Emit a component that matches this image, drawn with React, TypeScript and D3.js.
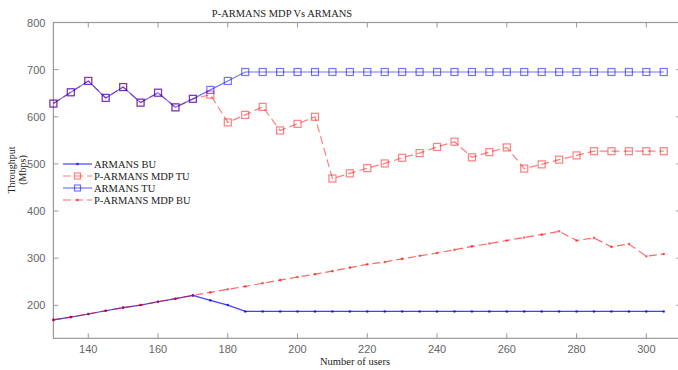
import React, { useRef, useEffect } from 'react';
import * as d3 from 'd3';

const users = d3.range(130, 306, 5);

const armansBU = [169, 175, 181.5, 188.5, 195, 200.5, 207.5, 214, 221, 210.5, 200.5, 187,
  187, 187, 187, 187, 187, 187, 187, 187, 187, 187, 187, 187, 187, 187, 187, 187, 187, 187, 187, 187, 187, 187, 187, 187];
const parmansTU = [628, 652, 676, 640, 663, 630, 651, 620, 638, 647, 588, 604, 621, 571, 585, 600,
  469, 480, 491, 501, 513, 523, 536, 547, 514, 525, 535, 490, 499, 509, 518, 527, 527, 527, 527, 527];
const armansTU = [628, 652, 676, 640, 663, 630, 651, 620, 638, 657, 676, 695,
  695, 695, 695, 695, 695, 695, 695, 695, 695, 695, 695, 695, 695, 695, 695, 695, 695, 695, 695, 695, 695, 695, 695, 695];
const parmansBU = [169, 175, 181.5, 188.5, 195, 200.5, 207.5, 214, 221, 227.5, 234, 240, 247, 253.5, 260, 266,
  272.5, 280, 287, 292, 298.5, 305, 311, 318, 325, 331, 337.5, 344, 350, 357, 337.5, 343, 324, 330, 304, 309];

const xTicks = [140, 160, 180, 200, 220, 240, 260, 280, 300];
const yTicks = [200, 300, 400, 500, 600, 700, 800];

const series = [
  { name: 'ARMANS BU', values: armansBU, color: 'rgba(0,0,255,0.75)', dash: null, marker: 'dot' },
  { name: 'P-ARMANS MDP TU', values: parmansTU, color: 'rgba(255,0,0,0.5)', dash: '8,4', marker: 'square' },
  { name: 'ARMANS TU', values: armansTU, color: 'rgba(0,0,255,0.55)', dash: null, marker: 'square' },
  { name: 'P-ARMANS MDP BU', values: parmansBU, color: 'rgba(255,0,0,0.6)', dash: '8,4', marker: 'dot' },
];

const App = () => {
  const svgRef = useRef(null);

  useEffect(() => {
    const svg = d3.select(svgRef.current);
    svg.selectAll('*').remove();
    const left = 53.4, top = 22.5, right = 681.2, bottom = 338.3;

    const x = d3.scaleLinear().domain([130, 310]).range([left, right]);
    const y = d3.scaleLinear().domain([130, 800]).range([bottom, top]);

    const axisColor = '#999';
    const tickFont = '"Liberation Sans", Arial, sans-serif';
    const serif = '"Liberation Serif", "Times New Roman", serif';

    // box
    svg.append('rect')
      .attr('x', left).attr('y', top)
      .attr('width', right - left).attr('height', bottom - top)
      .attr('fill', 'none').attr('stroke', axisColor).attr('stroke-width', 1.2);

    // ticks on all four sides
    const g = svg.append('g').attr('stroke', axisColor).attr('stroke-width', 1);
    xTicks.forEach(t => {
      g.append('line').attr('x1', x(t)).attr('x2', x(t)).attr('y1', bottom).attr('y2', bottom - 5);
      g.append('line').attr('x1', x(t)).attr('x2', x(t)).attr('y1', top).attr('y2', top + 5);
    });
    yTicks.forEach(t => {
      g.append('line').attr('x1', left).attr('x2', left + 5).attr('y1', y(t)).attr('y2', y(t));
      g.append('line').attr('x1', right).attr('x2', right - 5).attr('y1', y(t)).attr('y2', y(t));
    });

    svg.append('g').selectAll('text').data(xTicks).enter().append('text')
      .attr('x', d => x(d)).attr('y', bottom + 15)
      .attr('text-anchor', 'middle')
      .attr('font-family', tickFont).attr('font-size', 11).attr('fill', '#666')
      .text(d => d);

    svg.append('g').selectAll('text').data(yTicks).enter().append('text')
      .attr('x', left - 8).attr('y', d => y(d) + 4)
      .attr('text-anchor', 'end')
      .attr('font-family', tickFont).attr('font-size', 11).attr('fill', '#666')
      .text(d => d);

    // title and labels
    svg.append('text').attr('x', 282).attr('y', 17).attr('text-anchor', 'middle')
      .attr('font-family', serif).attr('font-size', 10.5).attr('fill', '#222')
      .text('P-ARMANS MDP Vs ARMANS');
    svg.append('text').attr('x', 355).attr('y', 365).attr('text-anchor', 'middle')
      .attr('font-family', serif).attr('font-size', 10.5).attr('fill', '#222')
      .text('Number of users');
    const yl = svg.append('text').attr('transform', 'translate(15,170) rotate(-90)')
      .attr('text-anchor', 'middle')
      .attr('font-family', serif).attr('font-size', 10).attr('fill', '#222');
    yl.append('tspan').attr('x', 0).attr('dy', 0).text('Throughput');
    yl.append('tspan').attr('x', 0).attr('dy', 11).text('(Mbps)');

    const line = d3.line().x(d => x(d[0])).y(d => y(d[1]));

    series.forEach(s => {
      const pts = users.map((u, k) => [u, s.values[k]]);
      svg.append('path').datum(pts)
        .attr('d', line).attr('fill', 'none')
        .attr('stroke', s.color).attr('stroke-width', 1.2)
        .attr('stroke-dasharray', s.dash);
      if (s.marker === 'square') {
        svg.append('g').selectAll('rect').data(pts).enter().append('rect')
          .attr('x', d => x(d[0]) - 3.5).attr('y', d => y(d[1]) - 3.5)
          .attr('width', 7).attr('height', 7)
          .attr('fill', 'none').attr('stroke', s.color).attr('stroke-width', 1.2);
      } else {
        svg.append('g').selectAll('circle').data(pts).enter().append('circle')
          .attr('cx', d => x(d[0])).attr('cy', d => y(d[1])).attr('r', 1.3)
          .attr('fill', s.color);
      }
    });

    // legend
    const legendY = [164, 176, 188, 200];
    series.forEach((s, i) => {
      const ly = legendY[i];
      const lg = svg.append('g');
      lg.append('line').attr('x1', 63).attr('x2', 92).attr('y1', ly).attr('y2', ly)
        .attr('stroke', s.color).attr('stroke-width', 1.2).attr('stroke-dasharray', s.dash);
      if (s.marker === 'square') {
        lg.append('rect').attr('x', 77.5 - 3).attr('y', ly - 3).attr('width', 6).attr('height', 6)
          .attr('fill', 'none').attr('stroke', s.color).attr('stroke-width', 1.2);
      } else {
        lg.append('circle').attr('cx', 77.5).attr('cy', ly).attr('r', 1.3).attr('fill', s.color);
      }
      lg.append('text').attr('x', 94).attr('y', ly + 3.5)
        .attr('font-family', serif).attr('font-size', 10.5).attr('fill', '#222')
        .text(s.name);
    });
  }, []);

  return (
    <svg ref={svgRef} width={678} height={370}
      style={{ position: 'absolute', left: 0, top: 0, background: '#fff' }}></svg>
  );
};

export default App;
